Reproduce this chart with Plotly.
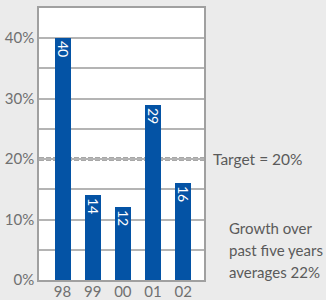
import plotly.graph_objects as go

years = ["98", "99", "00", "01", "02"]
growth = [40, 14, 12, 29, 16]
target = 20
ytick_vals = [0, 10, 20, 30, 40]
ytick_text = ["0%", "10%", "20%", "30%", "40%"]
note_lines = ["Growth over", "past five years", "averages 22%"]
note_y = [8.65, 5.0, 1.37]

FONT = "Lato"
TXT = "#5a5a5a"
xpos = list(range(len(years)))

fig = go.Figure()
fig.add_trace(go.Bar(
    x=xpos, y=growth, width=0.53,
    marker=dict(color="#0453a5", line=dict(width=0)),
    text=[str(v) for v in growth], textposition="inside",
    insidetextanchor="end", textangle=90,
    textfont=dict(color="white", size=14, family=FONT),
    cliponaxis=False,
))
fig.add_shape(type="line", xref="paper", yref="y", x0=0, x1=1.0, y0=target, y1=target,
              line=dict(color="#8a8a8a", width=3.5, dash="5px,2px"), layer="between")
fig.add_annotation(xref="paper", yref="y", x=1.042, y=target, xanchor="left", yanchor="middle",
                   text="Target = 20%", showarrow=False,
                   font=dict(family=FONT, size=15.5, color=TXT))
for line, yv in zip(note_lines, note_y):
    fig.add_annotation(xref="paper", yref="y", x=1.14, y=yv, xanchor="left", yanchor="middle",
                       text=line, showarrow=False,
                       font=dict(family=FONT, size=15, color=TXT))

fig.update_layout(
    width=326, height=300,
    margin=dict(l=39, r=122, t=8, b=20, autoexpand=False),
    paper_bgcolor="#ebebeb", plot_bgcolor="white",
    showlegend=False,
    uniformtext=dict(minsize=14, mode="show"),
    font=dict(family=FONT, color="#707070"),
    xaxis=dict(range=[-0.78, 4.69], tickvals=xpos, ticktext=years, showgrid=False,
               showline=True, linecolor="#a0a0a0", linewidth=1.5, mirror=True, automargin=False,
               tickfont=dict(size=15, color="#707070"), ticks="", zeroline=False,
               ticklabelstandoff=-3),
    yaxis=dict(range=[0, 45], tickvals=ytick_vals, ticktext=ytick_text, showgrid=True,
               gridcolor="#b4b4b4", gridwidth=1.5, automargin=False,
               minor=dict(dtick=5, tick0=0, showgrid=True, gridcolor="#b4b4b4", gridwidth=1.5),
               showline=True, linecolor="#a0a0a0", linewidth=1.5, mirror=True,
               tickfont=dict(size=15, color="#707070"), ticks="", zeroline=False),
    bargap=0,
)
fig.write_html("out.html", config={"displayModeBar": False},
               post_script="document.body.style.margin='0';document.body.style.overflow='hidden';")
